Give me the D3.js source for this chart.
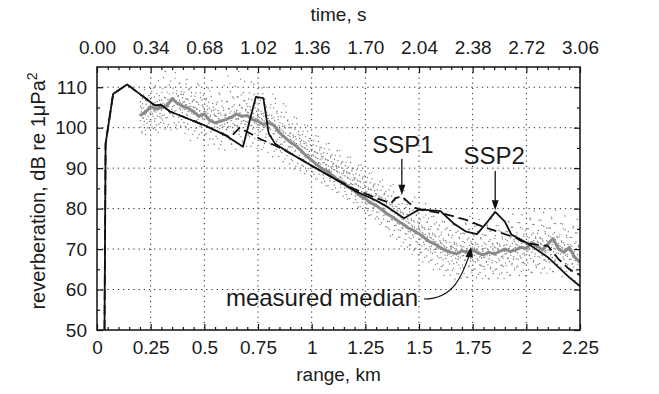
<!DOCTYPE html>
<html><head><meta charset="utf-8">
<script src="https://cdn.jsdelivr.net/npm/d3@7/dist/d3.min.js"></script>
<style>
body{margin:0;background:#fff}
text{font-family:"Liberation Sans",Arial,Helvetica,sans-serif;fill:#1a1a1a}
</style>
</head><body>
<svg id="chart" width="659" height="394"></svg>
<script>
// ---------------- data ----------------
const rangeTicks = [0,0.25,0.5,0.75,1,1.25,1.5,1.75,2,2.25];
const rangeTickLabels = ["0","0.25","0.5","0.75","1","1.25","1.5","1.75","2","2.25"];
const timeTicks = [0,0.34,0.68,1.02,1.36,1.70,2.04,2.38,2.72,3.06];
const timeTickLabels = ["0.00","0.34","0.68","1.02","1.36","1.70","2.04","2.38","2.72","3.06"];
const dbTicks = [50,60,70,80,90,100,110];

// measured median, sampled every 0.025 km from 0.2 km
const medianStart = 0.2, medianStep = 0.025;
const medianDb = [103.0,103.8,105.2,104.6,105.0,105.4,107.2,106.0,105.3,104.8,104.0,102.8,103.4,101.8,101.2,101.6,102.0,102.6,103.4,102.8,
103.0,102.0,101.6,100.8,101.2,100.6,98.8,97.6,96.4,95.6,94.4,93.0,92.0,90.8,89.8,89.2,88.0,87.0,86.4,85.2,
84.4,83.2,82.4,81.4,80.8,79.8,78.8,78.0,77.0,76.2,75.2,74.6,73.8,72.8,71.8,71.2,70.4,69.6,69.2,68.8,
69.6,69.2,69.8,69.0,68.6,69.2,68.8,69.4,70.0,69.4,69.8,70.4,70.2,71.6,70.8,69.8,71.2,72.6,70.0,69.2,
70.4,68.0,66.8];

// measured samples (two interleaved sample sets), every 0.0025 km from 0.2 km
const sampleStart = 0.2, sampleStep = 0.0025;
const sampleDbA = [
103.1,106.4,100.2,104.8,98.7,105.9,102.3,108.1,101.6,104.2,99.4,106.8,103.7,101.1,107.3,102.8,105.1,99.9,104.5,102.0,
106.2,101.5,108.9,103.4,105.7,99.8,104.1,107.6,102.2,110.3,103.9,100.6,106.5,104.4,98.9,105.3,107.9,102.7,104.9,101.3,
104.3,108.7,101.9,106.1,112.4,103.2,105.8,99.6,107.4,104.6,110.1,102.5,106.9,100.8,105.2,108.3,103.6,111.5,104.0,106.6,
107.2,103.1,109.8,105.4,101.2,106.7,113.6,104.2,108.4,99.7,105.9,107.8,102.6,110.9,104.8,106.3,100.4,108.9,105.1,103.7,
104.6,108.2,101.3,106.4,98.6,105.7,110.8,103.3,107.1,100.9,104.0,109.4,102.1,106.0,96.8,105.3,108.7,103.9,101.7,106.8,
103.4,106.9,99.2,105.0,108.6,101.8,104.7,97.5,106.2,102.9,110.5,104.1,100.3,107.4,103.6,98.8,105.6,102.2,108.0,104.9,
102.1,105.8,98.3,103.9,107.2,100.6,104.5,95.7,106.3,101.4,109.1,102.7,99.0,104.2,111.6,101.9,97.2,105.1,103.3,100.1,
101.2,104.6,97.9,102.8,106.3,99.4,103.5,94.8,101.9,108.2,100.5,103.1,96.6,105.4,102.0,98.7,104.3,110.4,100.9,102.6,
103.0,99.5,106.4,101.2,112.8,100.3,104.7,97.1,103.6,108.9,101.7,95.9,105.2,102.5,99.1,107.3,103.9,100.6,110.2,102.0,
104.1,100.4,107.6,102.3,113.9,99.2,105.5,103.2,97.8,108.1,101.6,104.8,96.3,106.7,102.9,111.4,100.8,104.2,98.6,105.9,
101.4,105.3,98.2,103.7,108.6,100.6,104.4,95.4,102.8,106.9,99.7,103.5,110.7,101.9,97.3,104.9,102.2,107.8,100.1,103.0,
100.7,104.2,97.3,102.5,106.8,99.1,103.4,94.6,101.9,108.4,100.2,102.9,96.1,105.6,101.1,98.4,103.8,109.9,99.6,102.3,
99.8,103.1,96.2,101.4,105.7,97.9,102.3,92.8,100.6,104.9,98.5,101.8,107.2,99.2,94.7,103.6,100.1,97.0,102.7,99.5,
97.6,101.2,94.3,99.4,103.8,95.9,100.3,91.6,98.8,102.6,96.5,99.9,105.4,97.2,93.1,101.7,98.1,95.3,100.8,97.9,
95.3,98.7,92.1,96.8,100.9,93.6,97.7,89.8,96.2,99.6,94.4,97.1,102.3,95.0,91.2,98.4,95.7,93.2,98.1,96.6,
93.8,96.9,90.7,95.3,99.1,92.2,96.1,88.6,94.9,97.8,92.9,95.6,100.4,93.4,89.9,96.7,94.1,91.8,97.3,94.6,
91.9,94.7,89.1,93.2,96.8,90.4,94.0,87.3,92.6,95.5,90.9,93.7,97.9,91.4,88.5,94.5,92.1,89.8,95.1,92.8,
90.2,92.8,87.5,91.4,94.9,88.7,92.1,85.6,90.8,93.6,89.2,91.9,96.1,89.6,86.9,92.7,90.3,88.1,93.3,91.0,
88.4,91.1,85.8,89.6,93.1,86.9,90.4,84.0,89.1,91.9,87.4,90.2,94.4,87.9,85.2,91.0,88.6,86.3,91.6,89.3,
86.8,89.4,84.2,88.1,91.5,85.3,88.8,82.3,87.5,90.3,85.9,88.6,92.7,86.2,83.6,89.3,87.0,84.7,90.0,87.7,
84.8,87.5,82.2,86.1,89.6,83.3,86.8,80.4,85.5,88.3,83.9,86.6,90.8,84.2,81.6,87.4,85.0,82.7,88.1,85.7,
82.8,85.5,80.1,84.1,87.7,81.3,84.8,78.3,83.5,86.4,81.8,84.6,88.9,82.2,79.5,85.4,83.0,80.6,86.1,83.7,
80.7,83.6,78.0,82.1,85.9,79.2,82.8,76.1,81.5,84.5,79.8,82.6,87.1,80.1,77.4,83.5,81.0,78.6,84.2,81.7,
78.4,81.9,75.3,80.1,84.6,76.8,80.9,73.2,79.4,83.1,77.2,80.5,86.0,77.9,74.6,82.0,78.8,75.9,82.7,79.6,
76.3,80.1,73.0,78.2,82.9,74.6,79.0,70.8,77.4,81.3,75.1,78.6,84.4,75.8,72.3,80.2,76.9,73.7,81.0,77.6,
74.3,78.3,71.0,76.3,81.2,72.6,77.1,68.7,75.5,79.6,73.0,76.7,82.8,73.8,70.2,78.4,74.9,71.6,79.3,75.7,
72.4,76.6,69.1,74.5,79.6,70.8,75.3,66.8,73.7,77.9,71.1,74.9,81.2,71.9,68.3,76.7,73.0,69.7,77.6,73.9,
70.6,74.9,67.2,72.7,78.0,68.9,73.5,64.9,71.9,76.2,69.2,73.1,79.6,70.0,66.4,75.0,71.2,67.8,75.9,72.1,
69.1,73.6,65.7,71.3,76.8,67.4,72.1,63.5,70.5,74.9,67.7,71.7,78.4,68.5,64.9,73.7,69.8,66.3,74.6,70.7,
68.2,72.8,64.7,70.4,76.0,66.4,71.2,62.6,69.6,74.1,66.7,70.8,77.6,67.5,63.9,72.9,68.9,65.3,73.8,69.8,
70.5,66.1,73.9,68.4,64.0,71.6,67.3,76.4,69.7,63.1,72.3,68.0,74.8,65.6,70.9,78.1,67.0,71.8,64.8,69.2,
68.7,72.4,65.0,70.2,75.6,66.8,71.1,62.9,69.9,74.3,67.2,70.6,77.3,66.1,64.2,72.8,68.4,65.8,73.6,69.5,
70.1,65.7,73.4,68.0,63.4,71.2,66.9,75.9,69.3,62.7,71.9,67.6,74.4,65.2,70.5,77.5,66.6,71.4,64.4,68.8,
68.6,72.6,64.9,70.3,75.8,66.7,71.3,62.8,69.8,74.6,67.1,70.7,77.8,66.0,64.1,73.0,68.3,65.7,73.9,69.6,
71.0,66.6,74.3,68.9,64.2,72.1,67.8,76.9,70.2,63.6,72.8,68.5,75.4,66.1,71.4,78.6,67.5,72.3,65.3,69.7,
69.3,73.3,65.6,71.0,76.6,67.4,72.0,63.5,70.5,75.3,67.8,71.4,78.5,66.7,64.8,73.7,69.0,66.4,74.6,70.3,
71.7,67.3,75.0,69.6,64.9,72.8,68.5,77.7,70.9,64.3,73.5,69.2,76.1,66.8,72.1,79.4,68.2,73.0,66.0,70.4,
69.9,73.9,66.2,71.6,77.2,68.0,72.6,64.1,71.1,75.9,68.4,72.0,79.1,67.3,65.4,74.3,69.6,67.0,75.2,70.9,
71.9,67.5,75.2,69.8,65.1,73.0,68.7,77.9,71.1,64.5,73.7,69.4,76.3,67.0,72.3,79.6,68.4,73.2,66.2,70.6,
69.0,73.0,65.3,70.7,76.3,67.1,71.7,63.2,70.2,75.0,67.5,71.1,78.2,66.4,64.5,73.4,68.7,66.1,74.3,70.0,
69.6,65.2,72.9,67.5,62.8,70.7,66.4,75.6,68.8,62.2,71.4,67.1,74.0,64.7,70.0,77.3,66.1,70.9,63.9,68.3];
const sampleDbB = [
101.8,105.3,103.9,99.1,107.2,102.6,104.9,100.7,109.4,103.2,98.3,105.8,102.1,106.6,100.0,104.4,107.9,101.5,103.6,105.1,
103.9,107.4,100.1,105.6,102.8,109.8,104.3,101.6,106.2,99.5,105.0,108.4,102.9,104.7,111.6,100.9,106.8,103.5,105.9,102.4,
106.8,103.0,109.6,104.7,101.1,107.5,105.3,113.9,102.4,106.1,108.8,100.2,105.9,104.0,110.6,103.7,107.0,99.4,106.4,104.5,
105.2,108.6,102.7,107.3,104.1,112.2,106.5,100.6,109.1,105.7,103.3,107.9,101.4,106.8,111.0,104.4,108.2,102.0,105.9,107.4,
106.3,102.9,108.8,104.5,100.3,107.1,105.6,111.9,103.0,106.9,99.6,105.2,109.7,104.1,101.8,107.8,103.6,106.4,98.4,105.0,
105.1,101.7,107.8,103.3,99.8,106.4,104.5,110.9,102.0,105.7,98.3,104.2,108.6,103.0,100.6,106.9,102.6,105.3,97.1,104.0,
104.0,100.5,106.9,102.2,98.6,105.4,103.5,109.8,101.0,104.8,97.2,103.1,107.7,101.9,99.5,106.0,101.5,104.3,95.9,103.0,
102.9,99.2,105.8,100.9,97.3,104.2,102.3,108.6,99.8,103.6,95.8,101.9,106.6,100.7,98.1,104.9,100.3,103.1,94.5,101.8,
103.4,99.6,106.5,101.3,97.6,104.7,102.8,110.9,100.2,104.1,96.0,102.3,107.6,101.0,98.4,105.6,100.7,103.6,94.7,102.2,
104.3,100.4,107.6,102.1,98.3,105.6,103.7,112.0,101.0,105.0,96.7,103.1,108.7,101.8,99.1,106.6,101.5,104.5,95.4,103.0,
103.8,99.9,107.1,101.6,97.8,105.1,103.2,111.3,100.5,104.5,96.2,102.6,108.2,101.3,98.6,106.1,101.0,104.0,94.9,102.5,
102.8,98.9,106.0,100.6,96.8,104.1,102.2,109.8,99.5,103.5,95.2,101.6,107.1,100.3,97.6,105.1,100.0,103.0,93.9,101.5,
101.8,97.9,104.9,99.6,95.8,103.0,101.2,108.3,98.5,102.5,94.2,100.6,106.0,99.3,96.6,104.0,99.0,102.0,92.9,100.5,
99.7,95.9,102.8,97.6,93.9,100.9,99.2,105.9,96.5,100.4,92.3,98.6,103.8,97.3,94.7,101.9,97.0,100.0,91.1,98.5,
97.1,93.6,100.0,95.2,91.8,98.2,96.6,102.6,94.2,97.8,90.5,96.1,100.9,94.9,92.6,99.1,94.7,97.4,89.4,96.0,
95.5,92.2,98.3,93.7,90.5,96.6,95.0,100.7,92.8,96.2,89.3,94.6,99.1,93.4,91.3,97.4,93.2,95.8,88.2,94.5,
93.2,90.1,95.8,91.5,88.5,94.2,92.8,98.0,90.7,93.9,87.4,92.4,96.6,91.2,89.3,95.0,91.0,93.5,86.4,92.3,
91.3,88.3,93.8,89.6,86.7,92.3,90.9,96.0,88.9,92.0,85.7,90.5,94.6,89.3,87.5,93.0,89.1,91.6,84.7,90.4,
89.7,86.7,92.2,88.0,85.1,90.7,89.3,94.3,87.3,90.4,84.1,88.9,93.0,87.7,85.9,91.4,87.5,90.0,83.1,88.8,
88.1,85.1,90.6,86.4,83.5,89.1,87.7,92.7,85.7,88.8,82.5,87.3,91.4,86.1,84.3,89.8,85.9,88.4,81.5,87.2,
86.1,83.1,88.6,84.4,81.5,87.1,85.7,90.7,83.7,86.8,80.5,85.3,89.4,84.1,82.3,87.8,83.9,86.4,79.5,85.2,
84.1,81.1,86.6,82.4,79.5,85.1,83.7,88.7,81.7,84.8,78.5,83.3,87.4,82.1,80.3,85.8,81.9,84.4,77.5,83.2,
82.1,79.1,84.6,80.4,77.5,83.1,81.7,86.7,79.7,82.8,76.5,81.3,85.4,80.1,78.3,83.8,79.9,82.4,75.5,81.2,
80.4,76.8,83.1,78.2,74.9,81.4,79.8,85.6,77.4,81.0,73.6,79.3,84.1,77.9,75.8,82.3,77.6,80.6,72.5,79.2,
78.4,74.8,81.1,76.2,72.9,79.4,77.8,83.6,75.4,79.0,71.6,77.3,82.1,75.9,73.8,80.3,75.6,78.6,70.5,77.2,
76.5,72.9,79.2,74.3,71.0,77.5,75.9,81.7,73.5,77.1,69.7,75.4,80.2,74.0,71.9,78.4,73.7,76.7,68.6,75.3,
74.7,71.1,77.4,72.5,69.2,75.7,74.1,79.9,71.7,75.3,67.9,73.6,78.4,72.2,70.1,76.6,71.9,74.9,66.8,73.5,
72.9,69.3,75.6,70.7,67.4,73.9,72.3,78.1,69.9,73.5,66.1,71.8,76.6,70.4,68.3,74.8,70.1,73.1,65.0,71.7,
71.5,67.9,74.2,69.3,66.0,72.5,70.9,76.7,68.5,72.1,64.7,70.4,75.2,69.0,66.9,73.4,68.7,71.7,63.6,70.3,
70.7,67.1,73.4,68.5,65.2,71.7,70.1,75.9,67.7,71.3,63.9,69.6,74.4,68.2,66.1,72.6,67.9,70.9,62.8,69.5,
68.3,71.9,65.4,70.6,73.8,67.2,69.0,76.1,66.5,70.2,63.0,68.8,72.7,65.9,74.9,69.5,67.6,71.4,64.3,69.9,
70.5,66.9,73.3,68.4,65.1,71.6,70.0,75.8,67.6,71.2,63.8,69.5,74.3,68.1,66.0,72.5,67.8,70.8,62.7,69.4,
67.9,71.5,65.0,70.2,73.4,66.8,68.6,75.7,66.1,69.8,62.6,68.4,72.3,65.5,74.5,69.1,67.2,71.0,63.9,69.5,
70.5,66.9,73.3,68.4,65.1,71.6,70.0,75.8,67.6,71.2,63.8,69.5,74.3,68.1,66.0,72.5,67.8,70.8,62.7,69.4,
68.8,72.4,65.9,71.1,74.3,67.7,69.5,76.6,67.0,70.7,63.5,69.3,73.2,66.4,75.4,70.0,68.1,71.9,64.8,70.4,
71.2,67.6,74.0,69.1,65.8,72.3,70.7,76.5,68.3,71.9,64.5,70.2,75.0,68.8,66.7,73.2,68.5,71.5,63.4,70.1,
69.5,73.1,66.6,71.8,75.0,68.4,70.2,77.3,67.7,71.4,64.2,70.0,73.9,67.1,76.1,70.7,68.8,72.6,65.5,71.1,
71.8,68.2,74.6,69.7,66.4,72.9,71.3,77.1,68.9,72.5,65.1,70.8,75.6,69.4,67.3,73.8,69.1,72.1,64.0,70.7,
69.7,73.3,66.8,72.0,75.2,68.6,70.4,77.5,67.9,71.6,64.4,70.2,74.1,67.3,76.3,70.9,69.0,72.8,65.7,71.3,
70.9,67.3,73.7,68.8,65.5,72.0,70.4,76.2,68.0,71.6,64.2,69.9,74.7,68.5,66.4,72.9,68.2,71.2,63.1,69.8,
67.4,71.0,64.5,69.7,72.9,66.3,68.1,75.2,65.6,69.3,62.1,67.9,71.8,65.0,74.0,68.6,66.7,70.5,63.4,69.0];

// model SSP1 (dashed)
const ssp1Range = [0.035,0.04,0.075,0.14,0.25,0.27,0.3,0.34,0.5,0.62,0.665,0.76,0.83,0.9,1.0,1.1,1.2,1.3,1.37,1.39,1.42,1.475,1.5,1.6,1.64,1.72,1.8,1.85,1.95,2.0,2.1,2.15,2.2,2.25];
const ssp1Db    = [50,96,108.3,110.7,106.3,105.5,105.6,104.0,100.6,97.6,100.0,97.2,95.6,93.7,90.6,87.6,84.8,82.6,81.3,82.6,83.0,80.4,79.8,78.9,78.4,77.2,75.5,74.6,72.8,71.4,70.8,67.5,65.0,63.6];
// model SSP2 (solid)
const ssp2Range = [0.035,0.04,0.075,0.14,0.25,0.27,0.3,0.34,0.5,0.6,0.68,0.74,0.775,0.80,0.83,0.9,1.0,1.1,1.2,1.3,1.35,1.43,1.5,1.6,1.66,1.72,1.77,1.82,1.855,1.9,1.93,2.0,2.1,2.2,2.25];
const ssp2Db    = [50,96,108.3,110.7,106.3,105.5,105.6,104.0,100.6,98.1,95.3,107.6,107.3,98.6,96.0,93.7,90.6,87.6,84.4,82.0,80.5,77.6,79.8,79.4,76.4,74.3,73.7,76.8,79.2,76.8,73.6,71.6,68.0,63.0,60.8];

// ---------------- drawing ----------------
const svg = d3.select("#chart");
const L = 97, R = 580, T = 67, B = 330;
const x = d3.scaleLinear().domain([0, 2.25]).range([L, R]);
const xt = d3.scaleLinear().domain([0, 3.06]).range([L, R]);
const y = d3.scaleLinear().domain([50, 115]).range([B, T]);

// grid
const grid = svg.append("g").attr("stroke", "#222").attr("stroke-width", 1).attr("stroke-dasharray", "1.2,4");
rangeTicks.filter(d => d > 0 && d < 2.25).forEach(d => {
  grid.append("line").attr("x1", x(d)).attr("x2", x(d)).attr("y1", T).attr("y2", B);
});
dbTicks.filter(d => d > 50).forEach(d => {
  grid.append("line").attr("x1", L).attr("x2", R).attr("y1", y(d)).attr("y2", y(d));
});

// samples
const samples = sampleDbA.map((v, i) => [sampleStart + i * sampleStep, v])
  .concat(sampleDbB.map((v, i) => [sampleStart + (i + 0.5) * sampleStep, v]));
svg.append("g").attr("fill", "#777")
  .selectAll("circle").data(samples).join("circle")
  .attr("cx", d => x(d[0])).attr("cy", d => y(d[1])).attr("r", 0.7);

// median
const median = medianDb.map((v, i) => [medianStart + i * medianStep, v]);
const line = d3.line().x(d => x(d[0])).y(d => y(d[1]));
svg.append("path").datum(median).attr("d", line)
  .attr("fill", "none").attr("stroke", "#8a8a8a").attr("stroke-width", 3).attr("stroke-linejoin", "round");

// models
const ssp1 = ssp1Range.map((r, i) => [r, ssp1Db[i]]);
const ssp2 = ssp2Range.map((r, i) => [r, ssp2Db[i]]);
svg.append("path").datum(ssp1).attr("d", line)
  .attr("fill", "none").attr("stroke", "#111").attr("stroke-width", 1.8).attr("stroke-dasharray", "10,5");
svg.append("path").datum(ssp2).attr("d", line)
  .attr("fill", "none").attr("stroke", "#111").attr("stroke-width", 1.8).attr("stroke-linejoin", "round");

// axes
const minorRange = d3.range(0, 2.2501, 0.05).filter(v => Math.abs(v / 0.25 - Math.round(v / 0.25)) > 1e-6);
const minorTime = d3.range(0, 3.0601, 0.068).filter(v => Math.abs(v / 0.34 - Math.round(v / 0.34)) > 1e-6);
const minorDb = [55,65,75,85,95,105];

function styleAxis(g) {
  g.select(".domain").remove();
  g.selectAll("line").attr("stroke", "#111").attr("stroke-width", 1.2);
  g.selectAll("text").attr("font-size", 19).attr("fill", "#1a1a1a")
    .attr("font-family", "'Liberation Sans', Arial, sans-serif");
}

svg.append("g").attr("transform", `translate(0,${B})`)
  .call(d3.axisBottom(x).tickValues(rangeTicks).tickFormat((d, i) => rangeTickLabels[i]).tickSize(-6).tickPadding(11))
  .call(styleAxis);
svg.append("g").attr("transform", `translate(0,${B})`)
  .call(d3.axisBottom(x).tickValues(minorRange).tickFormat("").tickSize(-3)).call(styleAxis);

svg.append("g").attr("transform", `translate(0,${T})`)
  .call(d3.axisTop(xt).tickValues(timeTicks).tickFormat((d, i) => timeTickLabels[i]).tickSize(-6).tickPadding(13))
  .call(styleAxis);
svg.append("g").attr("transform", `translate(0,${T})`)
  .call(d3.axisTop(xt).tickValues(minorTime).tickFormat("").tickSize(-3)).call(styleAxis);

svg.append("g").attr("transform", `translate(${L},0)`)
  .call(d3.axisLeft(y).tickValues(dbTicks).tickFormat(d3.format("d")).tickSize(-6).tickPadding(10))
  .call(styleAxis);
svg.append("g").attr("transform", `translate(${L},0)`)
  .call(d3.axisLeft(y).tickValues(minorDb).tickFormat("").tickSize(-3)).call(styleAxis);
svg.append("g").attr("transform", `translate(${R},0)`)
  .call(d3.axisRight(y).tickValues(dbTicks).tickFormat("").tickSize(-6)).call(styleAxis);
svg.append("g").attr("transform", `translate(${R},0)`)
  .call(d3.axisRight(y).tickValues(minorDb).tickFormat("").tickSize(-3)).call(styleAxis);

// frame
svg.append("rect").attr("x", L).attr("y", T).attr("width", R - L).attr("height", B - T)
  .attr("fill", "none").attr("stroke", "#111").attr("stroke-width", 1.5);

// axis titles
svg.append("text").attr("x", (L + R) / 2).attr("y", 381).attr("text-anchor", "middle")
  .attr("font-size", 19).text("range, km");
svg.append("text").attr("x", (L + R) / 2).attr("y", 21).attr("text-anchor", "middle")
  .attr("font-size", 19).text("time, s");
const yl = svg.append("text").attr("transform", `translate(45,191) rotate(-90)`)
  .attr("text-anchor", "middle").attr("font-size", 20);
yl.append("tspan").text("reverberation, dB re 1\u03bcPa");
yl.append("tspan").attr("dy", -8).attr("font-size", 14).text("2");

// annotations
function arrowDown(cx, y0, y1) {
  svg.append("line").attr("x1", cx).attr("x2", cx).attr("y1", y0).attr("y2", y1 - 8)
    .attr("stroke", "#111").attr("stroke-width", 1.3);
  svg.append("path").attr("d", `M${cx - 3.5},${y1 - 10} L${cx + 3.5},${y1 - 10} L${cx},${y1} Z`).attr("fill", "#111");
}
svg.append("text").attr("x", x(1.425)).attr("y", 153).attr("text-anchor", "middle").attr("font-size", 24).text("SSP1");
arrowDown(x(1.42), 159, y(83.4));
svg.append("text").attr("x", x(1.85)).attr("y", 164).attr("text-anchor", "middle").attr("font-size", 24).text("SSP2");
arrowDown(x(1.855), 171, y(79.6));

svg.append("text").attr("x", 418).attr("y", 306).attr("text-anchor", "end").attr("font-size", 24).text("measured median");
const ax0 = 424, ay0 = 299, ax1 = x(1.74), ay1 = y(70.6);
svg.append("path").attr("d", `M${ax0},${ay0} C${ax0 + 30},${ay0} ${ax1 - 8},${ay1 + 28} ${ax1 - 1},${ay1 + 8}`)
  .attr("fill", "none").attr("stroke", "#111").attr("stroke-width", 1.2);
svg.append("path").attr("d", `M${ax1 - 5},${ay1 + 10} L${ax1 + 2.5},${ay1 + 11} L${ax1 + 0.5},${ay1} Z`).attr("fill", "#111");
</script>
</body></html>
